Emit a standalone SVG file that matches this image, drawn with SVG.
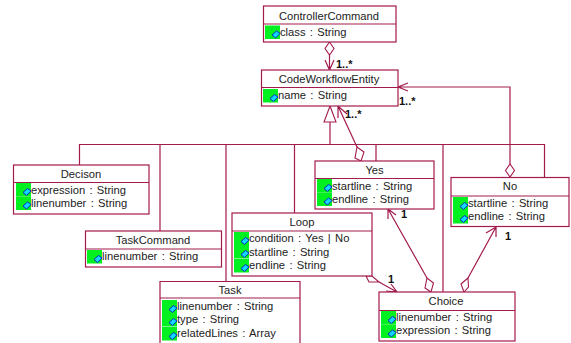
<svg xmlns="http://www.w3.org/2000/svg" width="571" height="343" viewBox="0 0 571 343">
<style>
.box{fill:#fff;stroke:#a31a4e;stroke-width:1.2}
.sep{fill:none;stroke:#a31a4e;stroke-width:1.2}
.c{fill:none;stroke:#a31a4e;stroke-width:1.2}
.d{fill:#fff;stroke:#a31a4e;stroke-width:1.1}
.name{font:11.2px "Liberation Sans",Arial,sans-serif;fill:#222;text-anchor:middle}
.attr{font:11.2px "Liberation Sans",Arial,sans-serif;fill:#222;word-spacing:1.2px}
.mul{font:bold 11px "Liberation Sans",Arial,sans-serif;fill:#111}
.g{fill:#00f020}
</style>
<defs>
<g id="ic"><rect class="g" x="0" y="0" width="15" height="13.500"/><path d="M7 9.500L11.500 5.500L15 8L10.500 12.500Z" fill="#10d8ff" stroke="#0828c8" stroke-width="1"/></g>
</defs>
<g id="connectors">
<path class="c" d="M79.500 144.500H544.500M79.500 144V165M160 144V231M226 144V281M294.500 144V213M376 144V161M443 144V292M544.500 144V177M330 122V144"/>
<path class="d" d="M330 106L336 122H324Z"/>
<path class="c" d="M329.500 55V70M325 60L329.500 70L334 60"/>
<path class="d" d="M329.500 42L334 48.500L329.500 55L325 48.500Z"/>
<path class="c" d="M357 147L338 106M338 118L338 106L347 114"/>
<path class="d" d="M361 161L355 158L357 147L364 152Z"/>
<path class="c" d="M510 164V87H398M408 83L398 87L408 91"/>
<path class="d" d="M510 177L505.500 170.500L510 164L514.500 170.500Z"/>
<path class="c" d="M427 278L388 209M388 219L388 209L396 215"/>
<path class="d" d="M431 292L425 288L427 278L433.500 283Z"/>
<path class="c" d="M468 278L496 227M486 233L496 227L496 237"/>
<path class="d" d="M464 292L461 284L468 278L468.500 287Z"/>
<path class="c" d="M379 282L397 292M386 291L397 292L391 284"/>
<path class="d" d="M366 276L372 276L379 282L369 282Z"/>
</g>
<g id="ControllerCommand"><rect class="box" x="263.500" y="6" width="132.500" height="36"/><path class="sep" d="M263.500 24H396"/><text class="name" x="329" y="19.500">ControllerCommand</text><use href="#ic" x="265" y="25.500"/><text class="attr" x="280" y="36">class : String</text></g>
<g id="CodeWorkflowEntity"><rect class="box" x="261.500" y="70" width="136.500" height="36"/><path class="sep" d="M261.500 87.500H398"/><text class="name" x="329" y="83">CodeWorkflowEntity</text><use href="#ic" x="263" y="89"/><text class="attr" x="278" y="99">name : String</text></g>
<g id="Decison"><rect class="box" x="13.500" y="165" width="135.500" height="49"/><path class="sep" d="M13.500 182.500H149"/><text class="name" x="81" y="178">Decison</text><use href="#ic" x="16" y="183"/><use href="#ic" x="16" y="196.500"/><text class="attr" x="31" y="194">expression : String</text><text class="attr" x="31" y="207">linenumber : String</text></g>
<g id="TaskCommand"><rect class="box" x="85.500" y="231" width="136" height="36"/><path class="sep" d="M85.500 249H221.500"/><text class="name" x="153" y="243.500">TaskCommand</text><use href="#ic" x="87" y="250"/><text class="attr" x="102" y="260">linenumber : String</text></g>
<g id="Task"><path class="box" d="M160 343V281.500H300V343"/><path class="sep" d="M160 298H300"/><text class="name" x="230" y="294">Task</text><use href="#ic" x="162" y="300"/><use href="#ic" x="162" y="313"/><use href="#ic" x="162" y="327"/><text class="attr" x="177" y="310">linenumber : String</text><text class="attr" x="177" y="323">type : String</text><text class="attr" x="177" y="337">relatedLines : Array</text></g>
<g id="Yes"><rect class="box" x="315" y="161" width="119" height="48"/><path class="sep" d="M315 178.500H434"/><text class="name" x="374.500" y="174">Yes</text><use href="#ic" x="317" y="179"/><use href="#ic" x="317" y="192.500"/><text class="attr" x="332" y="190">startline : String</text><text class="attr" x="332" y="203">endline : String</text></g>
<g id="No"><rect class="box" x="451" y="177.500" width="118" height="49"/><path class="sep" d="M451 196H569"/><text class="name" x="510" y="190">No</text><use href="#ic" x="453" y="197"/><use href="#ic" x="453" y="210"/><text class="attr" x="468" y="207">startline : String</text><text class="attr" x="468" y="220">endline : String</text></g>
<g id="Loop"><rect class="box" x="232" y="213" width="140" height="63"/><path class="sep" d="M232 231H372"/><text class="name" x="302" y="226">Loop</text><use href="#ic" x="234" y="232"/><use href="#ic" x="234" y="245"/><use href="#ic" x="234" y="259"/><text class="attr" x="249" y="242">condition : Yes | No</text><text class="attr" x="249" y="256">startline : String</text><text class="attr" x="249" y="269">endline : String</text></g>
<g id="Choice"><rect class="box" x="379" y="292" width="136" height="49"/><path class="sep" d="M379 310.500H515"/><text class="name" x="446" y="304.500">Choice</text><use href="#ic" x="381" y="311"/><use href="#ic" x="381" y="324.500"/><text class="attr" x="396" y="321">linenumber : String</text><text class="attr" x="396" y="334">expression : String</text></g>
<g id="multiplicities"><text class="mul" x="336" y="68">1..*</text><text class="mul" x="399" y="105">1..*</text><text class="mul" x="345" y="118">1..*</text><text class="mul" x="401" y="218">1</text><text class="mul" x="505" y="240">1</text><text class="mul" x="388" y="283">1</text></g>
</svg>
